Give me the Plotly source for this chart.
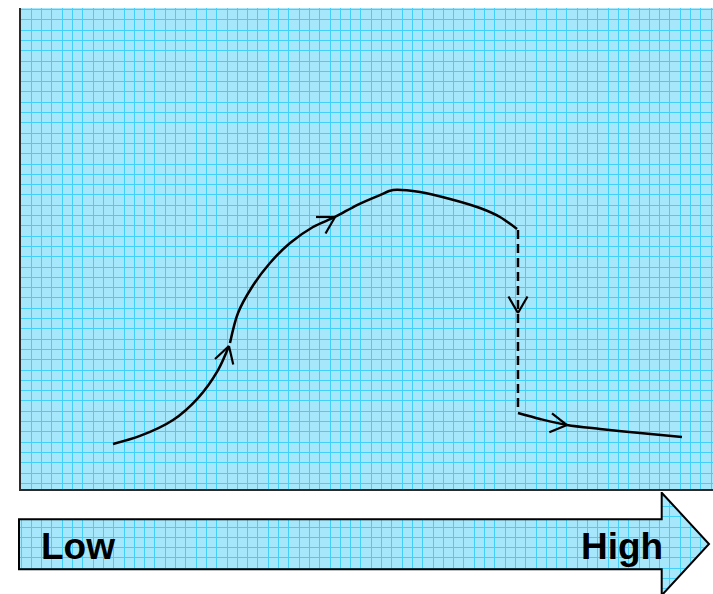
import numpy as np
import plotly.graph_objects as go

# ---- data (grid-cell units; x to the right, y upward) ----
rise_lo_x = [8.93, 11.55, 14.76, 17.18, 19.13, 20.19]
rise_lo_y = [4.37, 5.15, 6.70, 8.83, 11.55, 13.88]
rise_hi_x = [20.29, 21.07, 22.43, 24.17, 26.12, 28.35, 30.49, 32.62, 34.85, 36.12,
             38.74, 41.65, 44.56, 46.50, 48.16]
rise_hi_y = [14.17, 17.09, 19.61, 21.94, 23.88, 25.44, 26.41, 27.57, 28.54, 29.03,
             28.83, 28.16, 27.28, 26.41, 25.24]
drop_x = [48.25, 48.25]
drop_y = [25.15, 7.67]
tail_x = [48.25, 50.39, 53.01, 56.21, 60.10, 64.17]
tail_y = [7.38, 6.80, 6.21, 5.83, 5.44, 5.05]
arrow_x = [20.19, 30.49, 48.25, 53.01]
arrow_y = [13.88, 26.41, 17.09, 6.21]
arrow_dir = [73, 30, -90, -8]   # degrees
scale_labels = ["Low", "High"]

W, H = 713, 594
CELL = 10.3
BG = "#a6e7fb"
GRID = "#42cffa"
INK = "#000000"

fig = go.Figure()

solid = dict(color=INK, width=2.5, shape="spline", smoothing=0.9)
for xs, ys in ((rise_lo_x, rise_lo_y), (rise_hi_x, rise_hi_y), (tail_x, tail_y)):
    fig.add_trace(go.Scatter(x=xs, y=ys, mode="lines", line=solid,
                             hoverinfo="skip", showlegend=False))
fig.add_trace(go.Scatter(x=drop_x, y=drop_y, mode="lines",
                         line=dict(color=INK, width=2.5, dash="9px,5px"),
                         hoverinfo="skip", showlegend=False))

# open chevron arrowheads
L = 1.85
half = np.radians(30)
cx, cy = [], []
for ax_, ay_, d in zip(arrow_x, arrow_y, arrow_dir):
    t = np.radians(d)
    for s in (half, -half):
        a = t + np.pi + s
        cx += [ax_ + L * np.cos(a), ax_, None]
        cy += [ay_ + L * np.sin(a), ay_, None]
fig.add_trace(go.Scatter(x=cx, y=cy, mode="lines", line=dict(color=INK, width=2.2),
                         hoverinfo="skip", showlegend=False))

# invisible trace on the second axes so it renders
fig.add_trace(go.Scatter(x=[0], y=[0], xaxis="x2", yaxis="y2", mode="markers",
                         marker=dict(opacity=0), hoverinfo="skip", showlegend=False))

# ---- bottom big arrow (in x2/y2 cell units) ----
X0, Y0 = 18, 594
def bx(X):
    return (X - X0) / CELL
def by(Y):
    return (Y0 - Y) / CELL

def path(pts):
    return "M " + " L ".join(f"{bx(x):.3f},{by(y):.3f}" for x, y in pts) + " Z"

body_top, body_bot, head_x, head_top, head_bot, tip_x, tip_y = 519.3, 569.3, 661.7, 492.7, 595.3, 709, 544
covers = [
    [(0, 490), (head_x, 490), (head_x, body_top), (0, body_top)],
    [(0, body_bot), (head_x, body_bot), (head_x, 600), (0, 600)],
    [(head_x, 490), (720, 490), (720, tip_y), (tip_x, tip_y), (head_x, head_top)],
    [(head_x, 600), (720, 600), (720, tip_y), (tip_x, tip_y), (head_x, head_bot)],
]
shapes = []
for c in covers:
    shapes.append(dict(type="path", xref="x2", yref="y2", path=path(c),
                       fillcolor="white", line=dict(width=0), layer="between"))
outline = [(19, body_top), (head_x, body_top), (head_x, head_top), (tip_x, tip_y),
           (head_x, head_bot), (head_x, body_bot), (19, body_bot)]
shapes.append(dict(type="path", xref="x2", yref="y2", path=path(outline),
                   fillcolor="rgba(0,0,0,0)", line=dict(color=INK, width=2), layer="above"))

fig.update_layout(
    width=W, height=H,
    margin=dict(l=0, r=0, t=0, b=0),
    paper_bgcolor="white", plot_bgcolor=BG,
    shapes=shapes,
    xaxis=dict(domain=[21 / W, 1], range=[0, 692 / CELL], dtick=1, tick0=0,
               showgrid=True, gridcolor=GRID, gridwidth=1, zeroline=False,
               showticklabels=False, ticks="", showline=True, linecolor="#2b2b2b",
               linewidth=2, fixedrange=True),
    yaxis=dict(domain=[(H - 489) / H, (H - 8) / H], range=[0, 481 / CELL], dtick=1, tick0=0.55,
               showgrid=True, gridcolor=GRID, gridwidth=1, zeroline=False,
               showticklabels=False, ticks="", showline=True, linecolor="#2b2b2b",
               linewidth=2, fixedrange=True),
    xaxis2=dict(domain=[X0 / W, 1], range=[0, (W - X0) / CELL], dtick=1, tick0=0.3,
                showgrid=True, gridcolor=GRID, gridwidth=1, zeroline=False,
                showticklabels=False, ticks="", showline=False, anchor="y2", fixedrange=True),
    yaxis2=dict(domain=[0, (H - 492) / H], range=[0, (H - 492) / CELL], dtick=1, tick0=0.5,
                showgrid=True, gridcolor=GRID, gridwidth=1, zeroline=False,
                showticklabels=False, ticks="", showline=False, anchor="x2", fixedrange=True),
    annotations=[
        dict(text=f"<b>{scale_labels[0]}</b>", xref="paper", yref="paper",
             x=39 / W, y=(H - 546) / H, xanchor="left", yanchor="middle", showarrow=False,
             font=dict(family="Liberation Sans, Arial, sans-serif", size=37, color=INK)),
        dict(text=f"<b>{scale_labels[1]}</b>", xref="paper", yref="paper",
             x=665 / W, y=(H - 546) / H, xanchor="right", yanchor="middle", showarrow=False,
             font=dict(family="Liberation Sans, Arial, sans-serif", size=37, color=INK)),
    ],
)

fig.write_html("out.html", config={"displayModeBar": False},
               post_script="document.body.style.margin='0';document.body.style.overflow='hidden';")
